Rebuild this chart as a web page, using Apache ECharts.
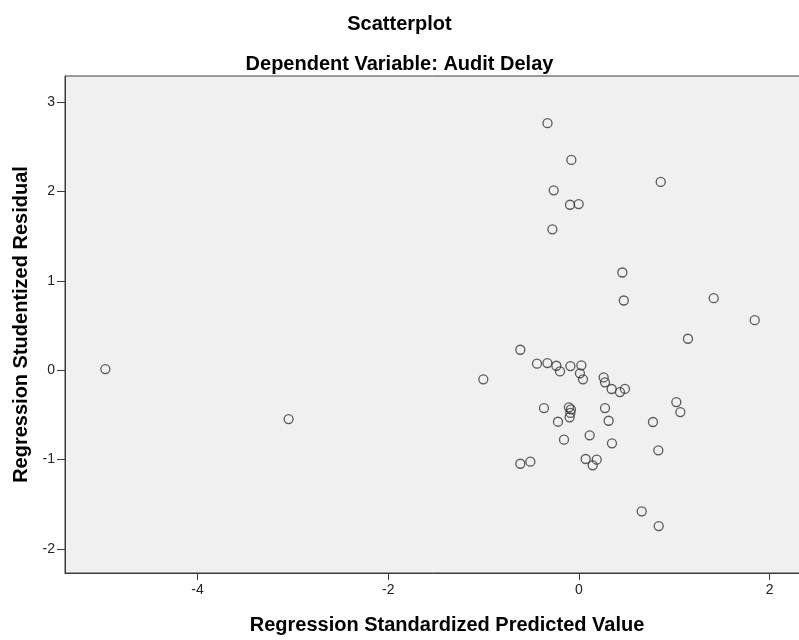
<!DOCTYPE html>
<html>
<head>
<meta charset="utf-8">
<script src="https://cdn.jsdelivr.net/npm/echarts@6/dist/echarts.min.js"></script>
<style>
html,body{margin:0;padding:0;background:#fff;}
#chart{width:799px;height:640px;}
</style>
</head>
<body>
<div id="chart"></div>
<script>
// Regression standardized predicted values (x) and studentized residuals (y)
var predicted = [
  -0.33, -0.08, 0.857, -0.265, -0.094, -0.003, -0.279, 0.455,
  0.47, 1.413, 1.843,
  1.143, -0.615, -0.44, -0.331, -0.237, -0.199, -0.09, 0.025, 0.01, 0.042,
  -1.003, 0.259, 0.273, 0.343, 0.43, 0.482, 1.021, 1.063, -0.367, -0.105,
  -0.084, -0.09, -0.098, 0.273, -0.22, 0.311, 0.776, 0.112, -0.157, 0.346,
  0.832, -0.615, -0.51, 0.07, 0.186, 0.144, 0.658, 0.836,
  -4.967, -3.045
];
var residual = [
  2.763, 2.352, 2.106, 2.012, 1.851, 1.859, 1.576, 1.093,
  0.78, 0.806, 0.56,
  0.352, 0.229, 0.073, 0.08, 0.05, -0.013, 0.047, 0.055, -0.035, -0.102,
  -0.102, -0.08, -0.135, -0.21, -0.244, -0.209, -0.356, -0.468, -0.423, -0.415,
  -0.437, -0.477, -0.527, -0.423, -0.576, -0.565, -0.579, -0.728, -0.777, -0.818,
  -0.896, -1.046, -1.023, -0.993, -1.001, -1.064, -1.578, -1.743,
  0.013, -0.546
];
var xTicks = [-4, -2, 0, 2];
var yTicks = [-2, -1, 0, 1, 2, 3];

var titleText = 'Scatterplot';
var subtitleText = 'Dependent Variable: Audit Delay';
var xName = 'Regression Standardized Predicted Value';
var yName = 'Regression Studentized Residual';

var points = predicted.map(function (v, i) { return [v, residual[i]]; });
var FONT = 'Arial, "Liberation Sans", sans-serif';

var chart = echarts.init(document.getElementById('chart'), null, {renderer: 'canvas'});
chart.setOption({
  animation: false,
  backgroundColor: '#ffffff',
  title: [
    {text: titleText, left: 'center', top: 9,
     textStyle: {fontFamily: FONT, fontSize: 20, fontWeight: 'bold', color: '#000'}},
    {text: subtitleText, left: 'center', top: 49,
     textStyle: {fontFamily: FONT, fontSize: 20, fontWeight: 'bold', color: '#000'}}
  ],
  grid: {
    left: 65, top: 76, width: 764, bottom: 67,
    outerBoundsMode: 'none', containLabel: false,
    show: true, backgroundColor: '#F0F0F0', borderColor: '#3a3a3a', borderWidth: 1
  },
  xAxis: {
    type: 'value', min: -5.39, max: 2.622,
    name: xName, nameLocation: 'middle', nameGap: 42,
    nameTextStyle: {fontFamily: FONT, fontSize: 20, fontWeight: 'bold', color: '#000'},
    axisLine: {show: true, onZero: false, lineStyle: {color: '#3a3a3a', width: 1}},
    axisTick: {show: true, length: 7, customValues: xTicks, lineStyle: {color: '#3a3a3a'}},
    axisLabel: {customValues: xTicks, fontFamily: FONT, fontSize: 14, color: '#222', margin: 10},
    splitLine: {show: false}
  },
  yAxis: {
    type: 'value', min: -2.268, max: 3.291,
    name: yName, nameLocation: 'middle', nameGap: 27, nameRotate: 90,
    nameTextStyle: {fontFamily: FONT, fontSize: 20, fontWeight: 'bold', color: '#000'},
    axisLine: {show: true, onZero: false, lineStyle: {color: '#3a3a3a', width: 1}},
    axisTick: {show: true, length: 8, customValues: yTicks, lineStyle: {color: '#3a3a3a'}},
    axisLabel: {customValues: yTicks, fontFamily: FONT, fontSize: 14, color: '#222', margin: 10},
    splitLine: {show: false}
  },
  series: [{
    type: 'scatter',
    data: points,
    symbol: 'circle',
    symbolSize: 9,
    itemStyle: {color: 'rgba(0,0,0,0)', borderColor: '#333', borderWidth: 1.3},
    emphasis: {disabled: true}
  }]
});
</script>
</body>
</html>
